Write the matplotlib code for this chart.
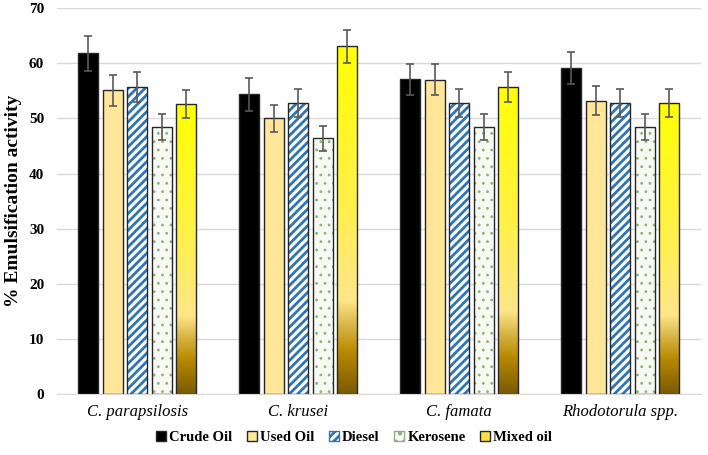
import numpy as np
import matplotlib as mpl
import matplotlib.pyplot as plt
from matplotlib.colors import LinearSegmentedColormap
from matplotlib.patches import Patch

plt.rcParams['font.family'] = ['Liberation Serif', 'DejaVu Serif']
plt.rcParams['hatch.linewidth'] = 2.0

species = ['C. parapsilosis', 'C. krusei', 'C. famata', 'Rhodotorula spp.']
oils = ['Crude Oil', 'Used Oil', 'Diesel', 'Kerosene', 'Mixed oil']

crude = [61.8, 54.4, 57.1, 59.1]
used = [55.1, 50.0, 57.0, 53.2]
diesel = [55.7, 52.8, 52.8, 52.8]
kerosene = [48.4, 46.4, 48.4, 48.4]
mixed = [52.6, 63.1, 55.7, 52.8]

crude_err = [3.2, 3.0, 2.8, 2.9]
used_err = [2.8, 2.4, 2.8, 2.6]
diesel_err = [2.8, 2.5, 2.5, 2.5]
kerosene_err = [2.4, 2.3, 2.4, 2.4]
mixed_err = [2.6, 3.0, 2.7, 2.6]

values = [crude, used, diesel, kerosene, mixed]
errors = [crude_err, used_err, diesel_err, kerosene_err, mixed_err]

fig, ax = plt.subplots(figsize=(7.08, 4.55), dpi=100)
fig.subplots_adjust(left=0.08, right=0.99, top=0.982, bottom=0.134)

x = np.arange(len(species))
width = 0.124
step = 0.152
edge = '#262626'

grad = LinearSegmentedColormap.from_list('mix', [
    (0.0, '#7a5a00'), (0.12, '#b88a00'), (0.2, '#d9b84a'),
    (0.27, '#ffe68a'), (0.55, '#fff04a'), (1.0, '#ffff00')])

for i, oil in enumerate(oils):
    pos = x + (i - 2) * step
    if i == 0:
        bars = ax.bar(pos, values[i], width, color='black', edgecolor=edge, lw=1, zorder=2)
    elif i == 1:
        bars = ax.bar(pos, values[i], width, color='#ffe699', edgecolor=edge, lw=1, zorder=2)
    elif i == 2:
        ax.bar(pos, values[i], width, color='white', edgecolor='#2e75b6', hatch='////', lw=0, zorder=2)
        bars = ax.bar(pos, values[i], width, color='none', edgecolor=edge, lw=1, zorder=3)
    elif i == 3:
        with mpl.rc_context({'hatch.linewidth': 0.8}):
            ax.bar(pos, values[i], width, color='#f7faf3', edgecolor='#8fb07c', hatch='..', lw=0, zorder=2)
        bars = ax.bar(pos, values[i], width, color='none', edgecolor=edge, lw=1, zorder=3)
    else:
        bars = ax.bar(pos, values[i], width, color='none', edgecolor=edge, lw=1, zorder=3)
        for b in bars:
            x0, h = b.get_x(), b.get_height()
            im = ax.imshow(np.linspace(0, 1, 256).reshape(-1, 1), cmap=grad, origin='lower',
                           extent=[x0, x0 + width, 0, h], aspect='auto', zorder=2)
            im.set_clip_path(b)
    ax.errorbar(pos, values[i], yerr=errors[i], fmt='none', ecolor='#595959',
                elinewidth=1.2, capsize=3, capthick=1.2, zorder=4)

ax.set_xlim(-0.5, 3.5)
ax.set_ylim(0, 70)
ax.set_yticks(range(0, 71, 10))
ax.yaxis.grid(True, color='#d9d9d9', lw=1)
ax.set_axisbelow(True)
for s in ['top', 'right', 'left']:
    ax.spines[s].set_visible(False)
ax.spines['bottom'].set_color('#d9d9d9')
ax.tick_params(axis='y', length=0, labelsize=11, pad=9)
ax.tick_params(axis='x', length=0, labelsize=12, pad=7)
for lab in ax.get_yticklabels():
    lab.set_fontweight('bold')
ax.set_xticks(x)
ax.set_xticklabels(species, style='italic')
ax.set_ylabel('% Emulsification activity', fontsize=14, fontweight='bold')
ax.yaxis.set_label_coords(-0.054, 0.5)

handles = [
    Patch(facecolor='black', edgecolor=edge),
    Patch(facecolor='#ffe699', edgecolor=edge),
    Patch(facecolor='white', edgecolor='#2e75b6', hatch='////'),
    Patch(facecolor='white', edgecolor='#8fb07c', hatch='..'),
    Patch(facecolor='#ffe040', edgecolor=edge),
]
leg = fig.legend(handles, oils, loc='lower center', bbox_to_anchor=(0.5, -0.005), ncol=5,
                 frameon=False, handlelength=0.7, handleheight=0.7, handletextpad=0.2,
                 columnspacing=1.0, prop={'weight': 'bold', 'size': 10.5})

plt.savefig('out.png', dpi=100)
